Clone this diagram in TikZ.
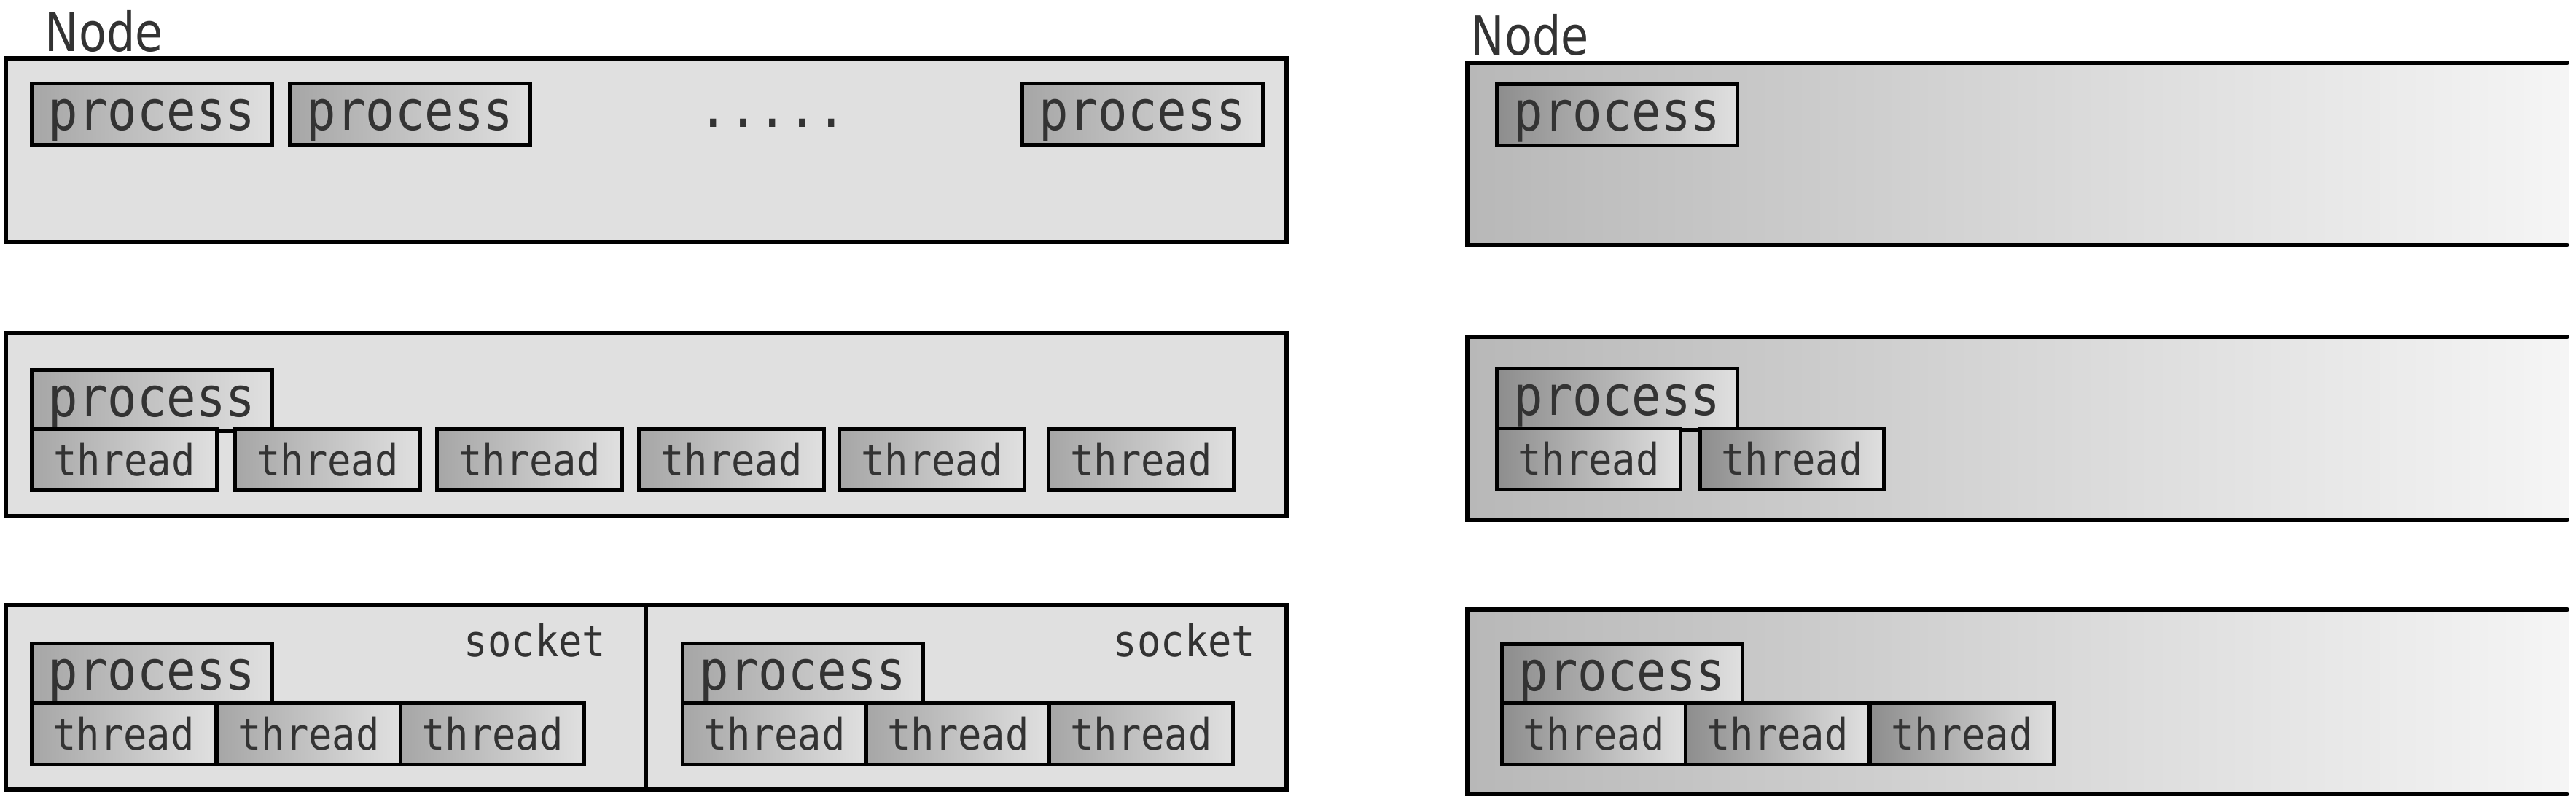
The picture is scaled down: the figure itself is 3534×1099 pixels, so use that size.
\documentclass[tikz,border=0pt]{standalone}
\usepackage{fontspec}
\setmainfont{DejaVu Sans}
\newfontfamily\labelfont[FakeStretch=0.84]{DejaVu Sans}
\newfontfamily\codefont[FakeStretch=0.89]{DejaVu Sans Mono}
\newfontfamily\smallcodefont[FakeStretch=0.9]{DejaVu Sans Mono}

\definecolor{boxgray}{HTML}{E0E0E0}
\definecolor{procdark}{HTML}{A6A6A6}
\definecolor{proclight}{HTML}{E0E0E0}
\definecolor{fadedark}{HTML}{B8B8B8}
\definecolor{fadelight}{HTML}{F5F5F5}
\definecolor{inkgray}{HTML}{333333}

\tikzset{
  hostbox/.style={draw=black, line width=1.5pt, fill=boxgray},
  procbox/.style={draw=black, line width=1.4pt, left color=procdark, right color=proclight,
    minimum width=3.3cm, minimum height=0.84cm, inner sep=0pt, anchor=north west,
    text height=14pt, text depth=1.5pt,
    text=inkgray, font=\codefont\fontsize{21.5}{22}\selectfont},
  thrbox/.style={procbox, minimum width=2.54cm, text height=, text depth=,
    font=\smallcodefont\fontsize{17}{18}\selectfont},
  hostlabel/.style={anchor=base west, inner sep=0pt, text=inkgray, font=\labelfont\fontsize{21}{22}\selectfont},
  socklabel/.style={anchor=base east, inner sep=0pt, text=inkgray, font=\smallcodefont\fontsize{17}{18}\selectfont}
}

\begin{document}
\begin{tikzpicture}[x=0.01cm, y=-0.01cm]
            \useasboundingbox (0,0) rectangle (3534,1099);

            % left column
            \node[hostlabel] (nodeL) at (61,70) {Node};
            \draw[hostbox] (8,80) rectangle (1765,332);
            \foreach \x [count=\i] in {41,395,1400}{
                \node[procbox] (procA\i) at (\x,112) {process};
            }
            \node[anchor=base, inner sep=0pt, text=inkgray, font=\codefont\fontsize{21.5}{22}\selectfont] (dots) at (1060,174) {.....};

            \draw[hostbox] (8,457) rectangle (1765,708);
            \node[procbox] (procB) at (41,505) {process};
            \foreach \x [count=\i] in {41,320,597,874,1149,1436}{
                \node[thrbox] (thrB\i) at (\x,586) {thread};
            }

            \draw[hostbox] (8,830) rectangle (1765,1083);
            \draw[line width=1.5pt] (886,830) -- (886,1083);
            \node[socklabel] (sockC1) at (832,900) {socket};
            \node[socklabel] (sockC2) at (1723,900) {socket};
            \node[procbox] (procC1) at (41,880) {process};
            \node[procbox] (procC2) at (934,880) {process};
            \foreach \x [count=\i] in {41,295,547}{
                \node[thrbox, minimum width=2.52cm] (thrC1\i) at (\x,962) {thread};
            }
            \foreach \x [count=\i] in {934,1186,1437}{
                \node[thrbox, minimum width=2.52cm] (thrC2\i) at (\x,962) {thread};
            }

            % right column
            \node[hostlabel] (nodeR) at (2017,75) {Node};
            \foreach \top/\bot in {86/336, 462/713, 836/1089}{
                \shade[left color=fadedark, right color=fadelight] (2013,\top) rectangle (3524,\bot);
                \draw[line width=1.7pt, line cap=round] (3522,\top) -- (2013,\top) -- (2013,\bot) -- (3522,\bot);
            }
            \node[procbox, left color=procdark!85!black] (procD) at (2051,113) {process};

            \node[procbox, left color=procdark!85!black] (procE) at (2051,503) {process};
            \foreach \x [count=\i] in {2051,2330}{
                \node[thrbox, minimum width=2.52cm, left color=procdark!85!black] (thrE\i) at (\x,585) {thread};
            }

            \node[procbox, left color=procdark!85!black] (procF) at (2058,881) {process};
            \foreach \x [count=\i] in {2058,2310,2563}{
                \node[thrbox, minimum width=2.52cm, left color=procdark!85!black] (thrF\i) at (\x,962) {thread};
            }
\end{tikzpicture}
\end{document}
